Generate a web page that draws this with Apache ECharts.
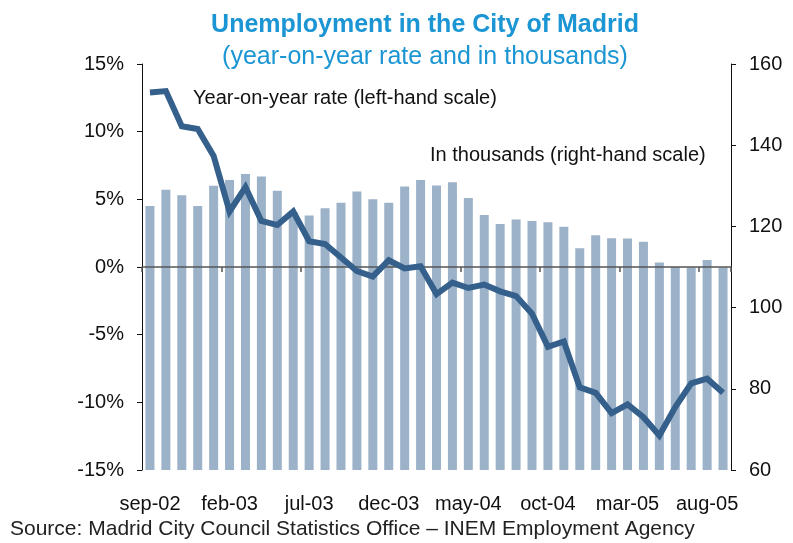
<!DOCTYPE html>
<html>
<head>
<meta charset="utf-8">
<script src="https://cdn.jsdelivr.net/npm/echarts@6/dist/echarts.min.js"></script>
<style>
  html, body { margin: 0; padding: 0; background: #fff; }
  #chart { width: 793px; height: 543px; }
</style>
</head>
<body>
<div id="chart"></div>
<script>
// months sep-02 .. sep-05
const months = ['sep-02','oct-02','nov-02','dec-02','jan-03','feb-03','mar-03','apr-03','may-03','jun-03',
  'jul-03','aug-03','sep-03','oct-03','nov-03','dec-03','jan-04','feb-04','mar-04','apr-04',
  'may-04','jun-04','jul-04','aug-04','sep-04','oct-04','nov-04','dec-04','jan-05','feb-05',
  'mar-05','apr-05','may-05','jun-05','jul-05','aug-05','sep-05'];

// unemployed, thousands (right-hand scale)
const thousands = [125.0, 129.0, 127.7, 125.0, 130.0, 131.4, 132.9, 132.3, 128.8, 123.5,
  122.7, 124.5, 125.8, 128.6, 126.7, 125.8, 129.8, 131.4, 130.1, 130.9,
  127.0, 122.8, 120.6, 121.7, 121.3, 121.0, 119.9, 114.6, 117.8, 117.1,
  117.0, 116.2, 111.1, 110.0, 109.9, 111.7, 109.9];

// year-on-year rate, % (left-hand scale)
const yoyRate = [12.9, 13.0, 10.4, 10.2, 8.2, 4.1, 5.9, 3.4, 3.1, 4.1,
  1.9, 1.7, 0.7, -0.3, -0.7, 0.5, -0.1, 0.05, -2.0, -1.15,
  -1.55, -1.3, -1.8, -2.15, -3.45, -5.9, -5.5, -8.9, -9.3, -10.8,
  -10.15, -11.1, -12.45, -10.35, -8.6, -8.25, -9.3];

const chart = echarts.init(document.getElementById('chart'));
const font = 'Liberation Sans, Arial, sans-serif';

chart.setOption({
    animation: false,
    textStyle: { fontFamily: font },
    title: {
        text: 'Unemployment in the City of Madrid',
        subtext: '(year-on-year rate and in thousands)',
        left: 420,
        top: 8,
        textAlign: 'center',
        itemGap: 7,
        textStyle: { fontSize: 25, fontWeight: 'bold', color: '#1b95d3', fontFamily: font },
        subtextStyle: { fontSize: 25, color: '#1b95d3', fontFamily: font }
    },
    grid: { left: 142, right: 62, top: 64, bottom: 73 },
    xAxis: [{
        type: 'category',
        data: months,
        position: 'bottom',
        axisLine: { show: false },
        axisTick: { show: false },
        axisLabel: { interval: 4, fontSize: 20, color: '#111', margin: 24 }
    }, {
        type: 'category',
        data: months,
        position: 'bottom',
        z: 4,
        axisLine: { show: true, onZero: true, onZeroAxisIndex: 0, lineStyle: { color: '#555', width: 1.5 } },
        axisTick: { show: true, interval: 4, length: 5, lineStyle: { color: '#555', width: 1.5 } },
        axisLabel: { show: false }
    }],
    yAxis: [{
        type: 'value',
        min: -15, max: 15, interval: 5,
        axisLine: { show: true, lineStyle: { color: '#111', width: 1 } },
        axisTick: { show: true, length: 5, lineStyle: { color: '#111' } },
        splitLine: { show: false },
        axisLabel: { formatter: '{value}%', fontSize: 20, color: '#111', margin: 18 }
    }, {
        type: 'value',
        min: 60, max: 160, interval: 20,
        axisLine: { show: true, lineStyle: { color: '#111', width: 1 } },
        axisTick: { show: true, length: 5, lineStyle: { color: '#111' } },
        splitLine: { show: false },
        axisLabel: { fontSize: 20, color: '#111', margin: 18 }
    }],
    series: [{
        name: 'In thousands (right-hand scale)',
        type: 'bar',
        xAxisIndex: 0,
        yAxisIndex: 1,
        data: thousands,
        barWidth: 9,
        itemStyle: { color: '#9cb2c8' }
    }, {
        name: 'Year-on-year rate (left-hand scale)',
        type: 'line',
        xAxisIndex: 0,
        yAxisIndex: 0,
        data: yoyRate,
        symbol: 'none',
        z: 5,
        lineStyle: { color: '#35608c', width: 6, join: 'miter' }
    }],
    graphic: [{
        type: 'text', left: 193, top: 88, z: 10,
        style: { text: 'Year-on-year rate (left-hand scale)', fontSize: 20, fill: '#111', fontFamily: font }
    }, {
        type: 'text', left: 430, top: 145, z: 10,
        style: { text: 'In thousands (right-hand scale)', fontSize: 20, fill: '#111', fontFamily: font }
    }, {
        type: 'text', left: 10, top: 519, z: 10,
        style: { text: 'Source: Madrid City Council Statistics Office \u2013 INEM Employment Agency', fontSize: 21, fill: '#222', fontFamily: font }
    }]
});

window.addEventListener('resize', () => chart.resize());
</script>
</body>
</html>
